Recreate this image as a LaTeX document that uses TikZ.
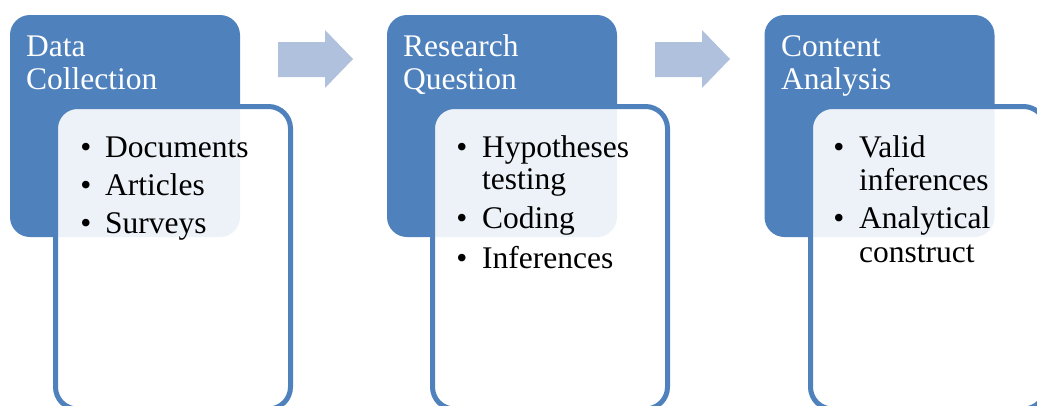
\documentclass[tikz,border=0pt]{standalone}
\usepackage{fontspec}
\setmainfont{Liberation Serif}
\definecolor{stepblue}{HTML}{4F81BD}
\definecolor{arrowblue}{HTML}{B0C1DD}
\begin{document}
\begin{tikzpicture}[x=1pt,y=-1pt,
  titlebox/.style={fill=stepblue, rounded corners=20pt, inner sep=0pt,
    minimum width=230pt, minimum height=222pt},
  listbox/.style={draw=stepblue, line width=5pt, fill=white, fill opacity=0.9,
    rounded corners=22pt, inner sep=0pt, minimum width=235pt, minimum height=302.5pt},
  titletext/.style={anchor=base west, inner sep=0pt, text=white,
    font=\fontsize{31.5}{33}\selectfont},
  itemtext/.style={anchor=base west, inner sep=0pt, text=black,
    font=\fontsize{31.5}{33}\selectfont},
  bullet/.style={anchor=base, inner sep=0pt, text=black,
    font=\fontsize{31.5}{33}\selectfont},
  flowarrow/.style={fill=arrowblue}
]
\useasboundingbox (0,0) rectangle (1037,405);
\clip (0,0) rectangle (1037,405);

% Stage 1: Data Collection
\node[titlebox] (b1) at (125,126) {};
\node[titletext] (t1a) at (26,56) {Data};
\node[titletext] (t1b) at (26,89) {Collection};
\node[listbox] (l1) at (173,257.75) {};
\node[bullet] (d1a) at (86,157) {•};
\node[itemtext] (i1a) at (105,157) {Documents};
\node[bullet] (d1b) at (86,195) {•};
\node[itemtext] (i1b) at (105,195) {Articles};
\node[bullet] (d1c) at (86,233) {•};
\node[itemtext] (i1c) at (105,233) {Surveys};

% Stage 2: Research Question
\node[titlebox] (b2) at (502,126) {};
\node[titletext] (t2a) at (403,56) {Research};
\node[titletext] (t2b) at (403,89) {Question};
\node[listbox] (l2) at (550,257.75) {};
\node[bullet] (d2a) at (462,157) {•};
\node[itemtext] (i2a) at (482,157) {Hypotheses};
\node[itemtext] (i2b) at (482,189) {testing};
\node[bullet] (d2c) at (462,228) {•};
\node[itemtext] (i2c) at (482,228) {Coding};
\node[bullet] (d2d) at (462,268) {•};
\node[itemtext] (i2d) at (482,268) {Inferences};

% Stage 3: Content Analysis
\node[titlebox] (b3) at (879.5,126) {};
\node[titletext] (t3a) at (781,56) {Content};
\node[titletext] (t3b) at (781,89) {Analysis};
\node[listbox] (l3) at (928,257.75) {};
\node[bullet] (d3a) at (839,157) {•};
\node[itemtext] (i3a) at (859,157) {Valid};
\node[itemtext] (i3b) at (859,190) {inferences};
\node[bullet] (d3c) at (839,228) {•};
\node[itemtext] (i3c) at (859,228) {Analytical};
\node[itemtext] (i3d) at (859,262) {construct};

% Block arrows between the stages
\fill[flowarrow] (278,42) -- (325,42) -- (325,30) -- (353,59) -- (325,88)
  -- (325,77) -- (278,77) -- cycle;
\fill[flowarrow] (655,42) -- (702,42) -- (702,30) -- (730,59) -- (702,88)
  -- (702,77) -- (655,77) -- cycle;
\end{tikzpicture}
\end{document}
